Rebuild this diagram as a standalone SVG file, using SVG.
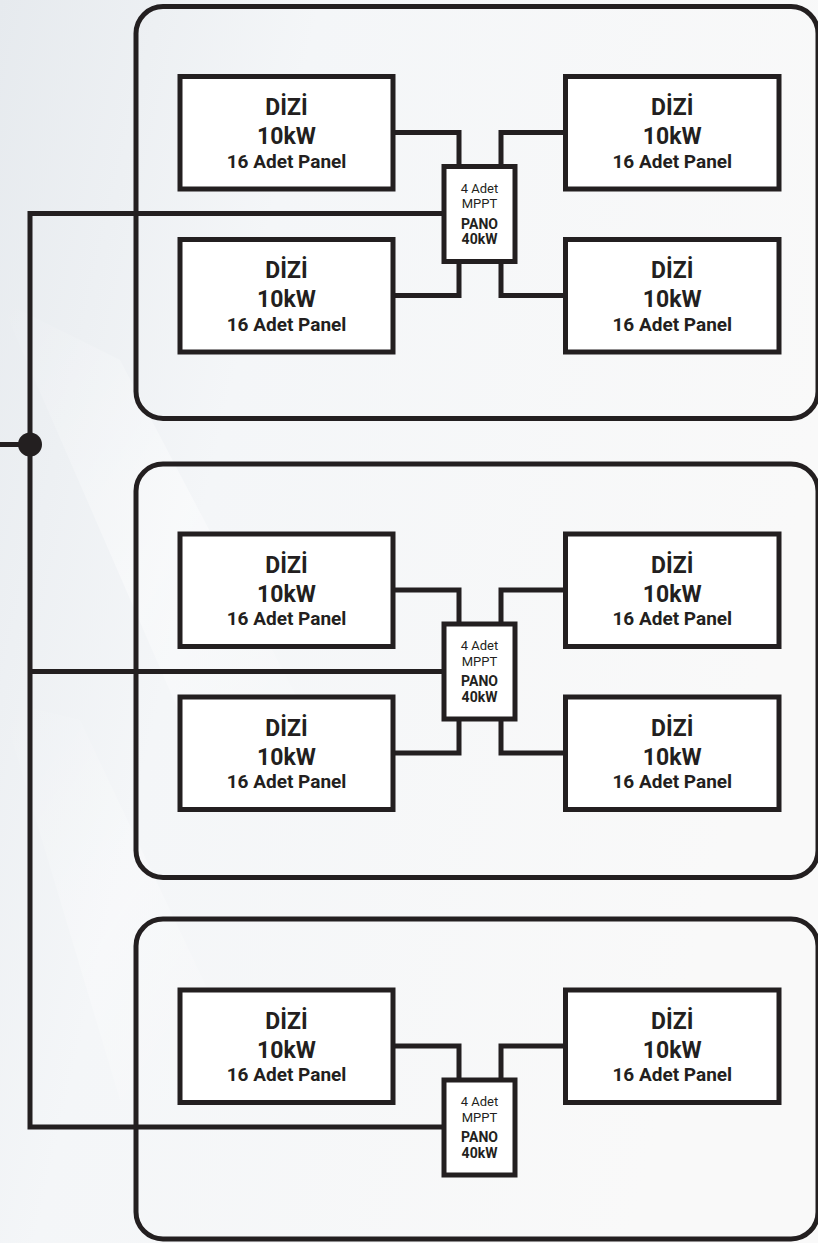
<svg xmlns="http://www.w3.org/2000/svg" width="818" height="1243" viewBox="0 0 818 1243">
<defs>
<linearGradient id="bg" x1="0" y1="0" x2="1" y2="0.35">
<stop offset="0" stop-color="#e6eaee"/>
<stop offset="0.35" stop-color="#f4f6f8"/>
<stop offset="1" stop-color="#f9f9f9"/>
</linearGradient>
<linearGradient id="streak" x1="0" y1="0" x2="1" y2="1">
<stop offset="0" stop-color="#ffffff" stop-opacity="0"/>
<stop offset="0.5" stop-color="#ffffff" stop-opacity="0.7"/>
<stop offset="1" stop-color="#ffffff" stop-opacity="0"/>
</linearGradient>
<style>
.grp{fill:none;stroke:#231f20;stroke-width:5}
.box{fill:#ffffff;stroke:#231f20;stroke-width:5}
.wire{fill:none;stroke:#231f20;stroke-width:5;stroke-linejoin:miter}
.t1{font-family:Roboto,"Liberation Sans",sans-serif;font-weight:700;font-size:23px;fill:#231f20;text-anchor:middle}
.t2{font-family:Roboto,"Liberation Sans",sans-serif;font-weight:700;font-size:19px;fill:#231f20;text-anchor:middle}
.p1{font-family:Roboto,"Liberation Sans",sans-serif;font-weight:400;font-size:13px;fill:#231f20;text-anchor:middle}
.p2{font-family:Roboto,"Liberation Sans",sans-serif;font-weight:700;font-size:14px;fill:#231f20;text-anchor:middle}
</style>
</defs>
<rect x="0" y="0" width="818" height="1243" fill="url(#bg)"/>
<polygon points="0,300 120,360 330,760 200,760" fill="url(#streak)" opacity="0.6"/>
<polygon points="0,700 80,720 260,1100 120,1100" fill="url(#streak)" opacity="0.4"/>

<g id="group1"><rect class="grp" x="136" y="6.5" width="682" height="412" rx="27"/></g>
<g id="group2"><rect class="grp" x="136" y="464" width="682" height="413.5" rx="27"/></g>
<g id="group3"><rect class="grp" x="136" y="919" width="682" height="320" rx="27"/></g>

<g id="connectors">
<polyline class="wire" points="393,132.5 459,132.5 459,166.5"/>
<polyline class="wire" points="565.5,132.5 501,132.5 501,166.5"/>
<polyline class="wire" points="393,295.5 459,295.5 459,261.5"/>
<polyline class="wire" points="565.5,295.5 501,295.5 501,261.5"/>
<polyline class="wire" points="393,590 459,590 459,624"/>
<polyline class="wire" points="565.5,590 501,590 501,624"/>
<polyline class="wire" points="393,753 459,753 459,719"/>
<polyline class="wire" points="565.5,753 501,753 501,719"/>
<polyline class="wire" points="393,1046 459,1046 459,1080"/>
<polyline class="wire" points="565.5,1046 501,1046 501,1080"/>
<polyline class="wire" points="444,213.5 30,213.5 30,1127 444,1127"/>
<line class="wire" x1="30" y1="671.5" x2="444" y2="671.5"/>
<line class="wire" x1="0" y1="444.5" x2="30" y2="444.5"/>
<circle cx="30" cy="444.5" r="12" fill="#231f20"/>
</g>

<g id="g1-dizi1"><rect class="box" x="180" y="76.5" width="213" height="112.5"/>
<text class="t1" x="286.5" y="115">DİZİ</text><text class="t1" x="286.5" y="144">10kW</text><text class="t2" x="286.5" y="167.5">16 Adet Panel</text></g>
<g id="g1-dizi2"><rect class="box" x="565.5" y="76.5" width="213.5" height="112.5"/>
<text class="t1" x="672.25" y="115">DİZİ</text><text class="t1" x="672.25" y="144">10kW</text><text class="t2" x="672.25" y="167.5">16 Adet Panel</text></g>
<g id="g1-dizi3"><rect class="box" x="180" y="239.5" width="213" height="112.5"/>
<text class="t1" x="286.5" y="278">DİZİ</text><text class="t1" x="286.5" y="307">10kW</text><text class="t2" x="286.5" y="330.5">16 Adet Panel</text></g>
<g id="g1-dizi4"><rect class="box" x="565.5" y="239.5" width="213.5" height="112.5"/>
<text class="t1" x="672.25" y="278">DİZİ</text><text class="t1" x="672.25" y="307">10kW</text><text class="t2" x="672.25" y="330.5">16 Adet Panel</text></g>
<g id="g1-pano"><rect class="box" x="444" y="166.5" width="71" height="95"/>
<text class="p1" x="479.5" y="192.5">4 Adet</text><text class="p1" x="479.5" y="208">MPPT</text><text class="p2" x="479.5" y="228.5">PANO</text><text class="p2" x="479.5" y="244">40kW</text></g>

<g id="g2-dizi1"><rect class="box" x="180" y="534" width="213" height="112.5"/>
<text class="t1" x="286.5" y="572.5">DİZİ</text><text class="t1" x="286.5" y="601.5">10kW</text><text class="t2" x="286.5" y="625">16 Adet Panel</text></g>
<g id="g2-dizi2"><rect class="box" x="565.5" y="534" width="213.5" height="112.5"/>
<text class="t1" x="672.25" y="572.5">DİZİ</text><text class="t1" x="672.25" y="601.5">10kW</text><text class="t2" x="672.25" y="625">16 Adet Panel</text></g>
<g id="g2-dizi3"><rect class="box" x="180" y="697" width="213" height="112.5"/>
<text class="t1" x="286.5" y="735.5">DİZİ</text><text class="t1" x="286.5" y="764.5">10kW</text><text class="t2" x="286.5" y="788">16 Adet Panel</text></g>
<g id="g2-dizi4"><rect class="box" x="565.5" y="697" width="213.5" height="112.5"/>
<text class="t1" x="672.25" y="735.5">DİZİ</text><text class="t1" x="672.25" y="764.5">10kW</text><text class="t2" x="672.25" y="788">16 Adet Panel</text></g>
<g id="g2-pano"><rect class="box" x="444" y="624" width="71" height="95"/>
<text class="p1" x="479.5" y="650">4 Adet</text><text class="p1" x="479.5" y="665.5">MPPT</text><text class="p2" x="479.5" y="686">PANO</text><text class="p2" x="479.5" y="701.5">40kW</text></g>

<g id="g3-dizi1"><rect class="box" x="180" y="990" width="213" height="112.5"/>
<text class="t1" x="286.5" y="1028.5">DİZİ</text><text class="t1" x="286.5" y="1057.5">10kW</text><text class="t2" x="286.5" y="1081">16 Adet Panel</text></g>
<g id="g3-dizi2"><rect class="box" x="565.5" y="990" width="213.5" height="112.5"/>
<text class="t1" x="672.25" y="1028.5">DİZİ</text><text class="t1" x="672.25" y="1057.5">10kW</text><text class="t2" x="672.25" y="1081">16 Adet Panel</text></g>
<g id="g3-pano"><rect class="box" x="444" y="1080" width="71" height="95"/>
<text class="p1" x="479.5" y="1106">4 Adet</text><text class="p1" x="479.5" y="1121.5">MPPT</text><text class="p2" x="479.5" y="1142">PANO</text><text class="p2" x="479.5" y="1157.5">40kW</text></g>
</svg>
